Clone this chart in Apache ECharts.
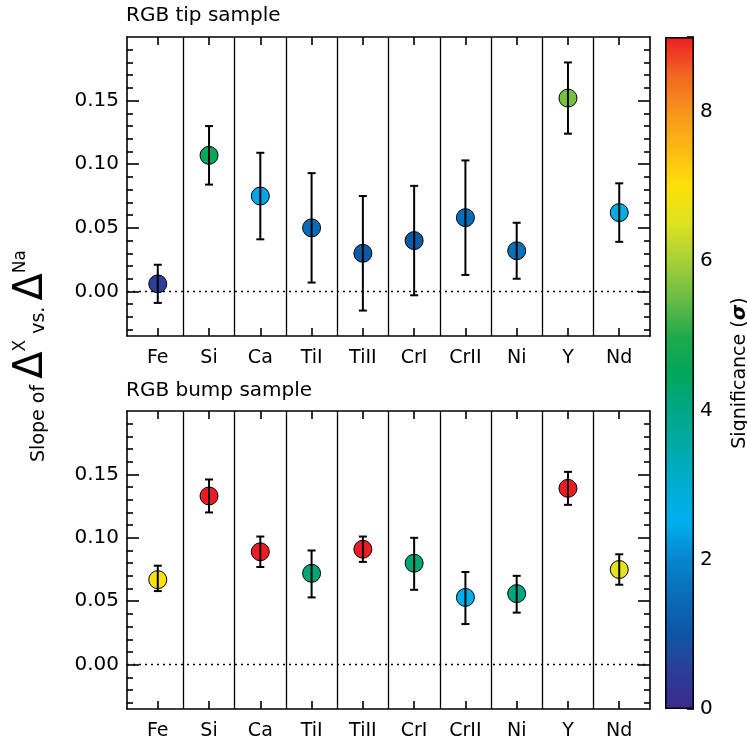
<!DOCTYPE html>
<html>
<head>
<meta charset="utf-8">
<script src="https://cdn.jsdelivr.net/npm/echarts@6/dist/echarts.min.js"></script>
<style>
  html, body { margin: 0; padding: 0; background: #fff; }
  #chart { width: 747px; height: 747px; }
</style>
</head>
<body>
<div id="chart"></div>
<script>
// Elements on the x axis (same for both panels)
const elements = ['Fe', 'Si', 'Ca', 'TiI', 'TiII', 'CrI', 'CrII', 'Ni', 'Y', 'Nd'];

// RGB tip sample: slope, error bar ends, significance (sigma)
const tipSlope = [0.006, 0.107, 0.075, 0.050, 0.030, 0.040, 0.058, 0.032, 0.152, 0.062];
const tipLow   = [-0.009, 0.084, 0.041, 0.007, -0.015, -0.003, 0.013, 0.010, 0.124, 0.039];
const tipHigh  = [0.021, 0.130, 0.109, 0.093, 0.075, 0.083, 0.103, 0.054, 0.180, 0.085];
const tipSig   = [0.5, 4.6, 2.4, 1.5, 1.1, 1.1, 1.5, 1.6, 5.6, 2.7];

// RGB bump sample
const bumpSlope = [0.067, 0.133, 0.089, 0.072, 0.091, 0.080, 0.053, 0.056, 0.139, 0.075];
const bumpLow   = [0.058, 0.120, 0.077, 0.053, 0.081, 0.059, 0.032, 0.041, 0.126, 0.063];
const bumpHigh  = [0.078, 0.146, 0.101, 0.090, 0.101, 0.100, 0.073, 0.070, 0.152, 0.087];
const bumpSig   = [7.0, 9.0, 9.0, 4.2, 9.0, 4.2, 2.6, 4.0, 9.0, 6.6];

// Tick values
const yMajor = [0, 0.05, 0.10, 0.15];
const yMinor = [-0.03, -0.02, -0.01, 0.01, 0.02, 0.03, 0.04, 0.06, 0.07, 0.08, 0.09,
                0.11, 0.12, 0.13, 0.14, 0.16, 0.17, 0.18, 0.19];
const catPos = elements.map((_, i) => i + 1);
const sepPos = elements.slice(1).map((_, i) => i + 1.5);

// Colour table, significance 0..9 in steps of 0.5
const sigColors = ['#3b2a8c', '#2b3e98', '#0f55a5', '#0a6cb8', '#0786cc', '#00aeef', '#00acd0',
  '#00aaa9', '#00a785', '#00a65a', '#22aa4c', '#6abd45', '#a8cf38', '#dce21f', '#fee00a',
  '#fdb913', '#f7941d', '#f26522', '#ed1c24'];

const FONT = 'DejaVu Sans';
const chart = echarts.init(document.getElementById('chart'));

const grids = [
  { left: 127, top: 37, width: 523, height: 299, outerBoundsMode: 'none' },
  { left: 127, top: 411, width: 523, height: 298, outerBoundsMode: 'none' },
  { left: 665, top: 37, width: 29, height: 672, outerBoundsMode: 'none' }
];

const black = { color: '#000', width: 1.6 };

function xAxesFor(g) {
  return [
    {
      type: 'value', gridIndex: g, position: 'bottom', min: 0.4, max: 10.6,
      axisLine: { show: true, onZero: false, lineStyle: black },
      axisTick: { show: true, inside: true, length: 8, customValues: catPos, lineStyle: black },
      axisLabel: {
        customValues: catPos, margin: 13, color: '#000', fontFamily: FONT, fontSize: 19,
        formatter: v => elements[Math.round(v) - 1] || ''
      },
      splitLine: { show: false }
    },
    {
      type: 'value', gridIndex: g, position: 'top', min: 0.4, max: 10.6,
      axisLine: { show: true, onZero: false, lineStyle: black },
      axisTick: { show: true, inside: true, length: 8, customValues: catPos, lineStyle: black },
      axisLabel: { show: false },
      splitLine: { show: false }
    }
  ];
}

function yAxesFor(g) {
  const base = { type: 'value', gridIndex: g, min: -0.035, max: 0.2, splitLine: { show: false } };
  return [
    Object.assign({}, base, {
      position: 'left',
      axisLine: { show: true, onZero: false, lineStyle: black },
      axisTick: { show: true, inside: true, length: 12, customValues: yMajor, lineStyle: black },
      axisLabel: {
        customValues: yMajor, margin: 8, color: '#000', fontFamily: FONT, fontSize: 20,
        formatter: v => v.toFixed(2)
      }
    }),
    Object.assign({}, base, {
      position: 'right',
      axisLine: { show: true, onZero: false, lineStyle: black },
      axisTick: { show: true, inside: true, length: 12, customValues: yMajor, lineStyle: black },
      axisLabel: { show: false }
    }),
    Object.assign({}, base, {
      position: 'left',
      axisLine: { show: false },
      axisTick: { show: true, inside: true, length: 6, customValues: yMinor, lineStyle: black },
      axisLabel: { show: false }
    }),
    Object.assign({}, base, {
      position: 'right',
      axisLine: { show: false },
      axisTick: { show: true, inside: true, length: 6, customValues: yMinor, lineStyle: black },
      axisLabel: { show: false }
    })
  ];
}

function errorSeries(g, low, high) {
  return {
    type: 'custom', xAxisIndex: g * 2, yAxisIndex: g * 4, z: 5, silent: true,
    data: low.map((lo, i) => [i + 1, lo, high[i]]),
    encode: { x: 0, y: [1, 2] },
    renderItem: (params, api) => {
      const x = api.value(0);
      const pLo = api.coord([x, api.value(1)]);
      const pHi = api.coord([x, api.value(2)]);
      const w = 4;
      const st = { stroke: '#000', lineWidth: 2, fill: null };
      return {
        type: 'group',
        children: [
          { type: 'line', shape: { x1: pLo[0], y1: pLo[1], x2: pHi[0], y2: pHi[1] }, style: st },
          { type: 'line', shape: { x1: pLo[0] - w, y1: pLo[1], x2: pLo[0] + w, y2: pLo[1] }, style: st },
          { type: 'line', shape: { x1: pHi[0] - w, y1: pHi[1], x2: pHi[0] + w, y2: pHi[1] }, style: st }
        ]
      };
    }
  };
}

function pointSeries(g, slope, sig) {
  return {
    type: 'scatter', xAxisIndex: g * 2, yAxisIndex: g * 4, z: 3, silent: true,
    symbol: 'circle', symbolSize: 18,
    itemStyle: { borderColor: '#000', borderWidth: 1, opacity: 1 },
    data: slope.map((v, i) => [i + 1, v, sig[i]]),
    markLine: {
      silent: true, symbol: 'none', label: { show: false },
      data: [
        { yAxis: 0, lineStyle: { type: [2, 4], color: '#000', width: 1.3 } }
      ].concat(sepPos.map(p => ({ xAxis: p, lineStyle: { type: 'solid', color: '#000', width: 1.3 } })))
    }
  };
}

const gradStops = sigColors.map((c, i) => ({ offset: i / (sigColors.length - 1), color: c }));
const titleStyle = { fontFamily: FONT, fontSize: 20, fontWeight: 'normal', color: '#000' };

const option = {
  backgroundColor: '#fff',
  animation: false,
  title: [
    { text: 'RGB tip sample', left: 126, top: 6, padding: 0, textStyle: titleStyle },
    { text: 'RGB bump sample', left: 126, top: 381, padding: 0, textStyle: titleStyle }
  ],
  grid: grids,
  xAxis: xAxesFor(0).concat(xAxesFor(1)).concat([
    { type: 'category', gridIndex: 2, data: [''], axisLine: { show: false },
      axisTick: { show: false }, axisLabel: { show: false } }
  ]),
  yAxis: yAxesFor(0).concat(yAxesFor(1)).concat([
    {
      type: 'value', gridIndex: 2, position: 'right', min: 0, max: 9, interval: 2,
      axisLine: { show: false },
      axisTick: { show: true, inside: true, length: 7, lineStyle: black },
      minorTick: { show: true, splitNumber: 2, length: 4, lineStyle: black },
      axisLabel: { margin: 6, color: '#000', fontFamily: FONT, fontSize: 20, showMaxLabel: false },
      splitLine: { show: false },
      name: 'Significance ({g|σ})', nameLocation: 'middle', nameRotate: 90, nameGap: 36,
      nameTextStyle: {
        color: '#000', fontFamily: FONT, fontSize: 19,
        rich: { g: { color: '#000', fontFamily: FONT, fontSize: 20, fontWeight: 'bold', fontStyle: 'italic' } }
      }
    }
  ]),
  visualMap: {
    show: false, type: 'continuous', min: 0, max: 9, dimension: 2,
    seriesIndex: [0, 2], inRange: { color: sigColors }
  },
  graphic: [
    {
      type: 'text', x: 32, y: 356, rotation: Math.PI / 2,
      style: {
        text: '{n|Slope of }{d|Δ}{s|X}{n| vs. }{d|Δ}{s|Na}',
        align: 'center', verticalAlign: 'middle',
        rich: {
          n: { fontFamily: FONT, fontSize: 19, fill: '#000', verticalAlign: 'bottom', padding: [0, 0, 3, 0] },
          d: { fontFamily: FONT, fontSize: 40, fill: '#000', verticalAlign: 'bottom' },
          s: { fontFamily: FONT, fontSize: 17, fill: '#000', verticalAlign: 'top' }
        }
      }
    }
  ],
  series: [
    pointSeries(0, tipSlope, tipSig),
    errorSeries(0, tipLow, tipHigh),
    pointSeries(1, bumpSlope, bumpSig),
    errorSeries(1, bumpLow, bumpHigh),
    {
      type: 'bar', xAxisIndex: 4, yAxisIndex: 8, barWidth: '100%', silent: true,
      data: [9],
      itemStyle: {
        color: new echarts.graphic.LinearGradient(0, 1, 0, 0, gradStops),
        borderColor: '#000', borderWidth: 1.6
      }
    }
  ]
};

chart.setOption(option);
</script>
</body>
</html>
